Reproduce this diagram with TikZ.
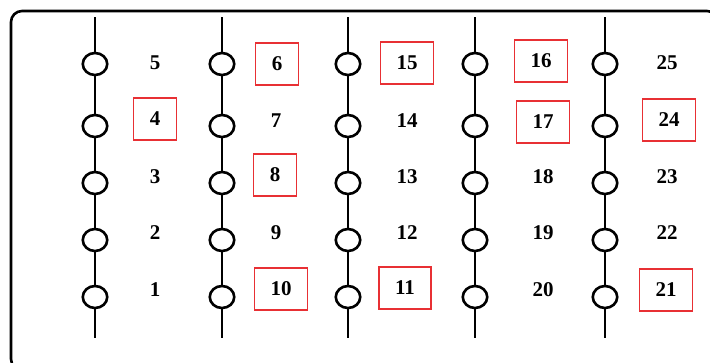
\documentclass[tikz,border=0pt]{standalone}
\usepackage{fontspec}
\setmainfont{Liberation Serif}
\usetikzlibrary{shapes.geometric}

\definecolor{markred}{RGB}{232,48,52}

\tikzset{
	bead/.style = {draw, ellipse, fill=white, line width=2.6pt, minimum width=24.5pt, minimum height=22pt, inner sep=0pt},
	wire/.style = {line width=2.6pt},
	num/.style = {font=\fontsize{21}{25}\selectfont\bfseries, inner sep=0pt},
	marked/.style = {num, draw=markred, line width=1.4pt, inner xsep=16pt, minimum height=42pt}
}

\begin{document}
\begin{tikzpicture}[x=1pt, y=-1pt]
	\useasboundingbox (0, 0) rectangle (710, 362);
	\begin{scope}
		\clip (0, 0) rectangle (710, 362);
		\draw [line width=2.6pt, rounded corners=11pt] (11, 11) rectangle (718, 370);
	\end{scope}
	% five strings of beads
	\foreach \x [count=\c] in {95, 222, 348, 475, 605} {
		\coordinate (t\c) at (\x, 17);
		\coordinate (b\c) at (\x, 338);
		\foreach \y [count=\r] in {64, 126, 183, 240, 297}
			\node [bead] (c\c-\r) at (\x, \y) {};
		\draw [wire] (t\c) -- (c\c-1) -- (c\c-2) -- (c\c-3) -- (c\c-4) -- (c\c-5) -- (b\c);
	}
	% numbers
	\foreach \n/\x/\y in {5/155/63, 3/155/177, 2/155/233, 1/155/290,
			7/276/121, 9/276/233,
			14/407/121, 13/407/177, 12/407/233,
			18/543/177, 19/543/233, 20/543/290,
			25/667/63, 23/667/177, 22/667/233}
		\node [num] (n\n) at (\x, \y) {\n};
	\foreach \n/\x/\y in {4/155/119, 6/277/64, 8/275/175, 10/281/289,
			15/407/63, 11/405/288, 16/541/61, 17/543/122,
			24/669/120, 21/666/290}
		\node [marked] (n\n) at (\x, \y) {\n};
\end{tikzpicture}
\end{document}
